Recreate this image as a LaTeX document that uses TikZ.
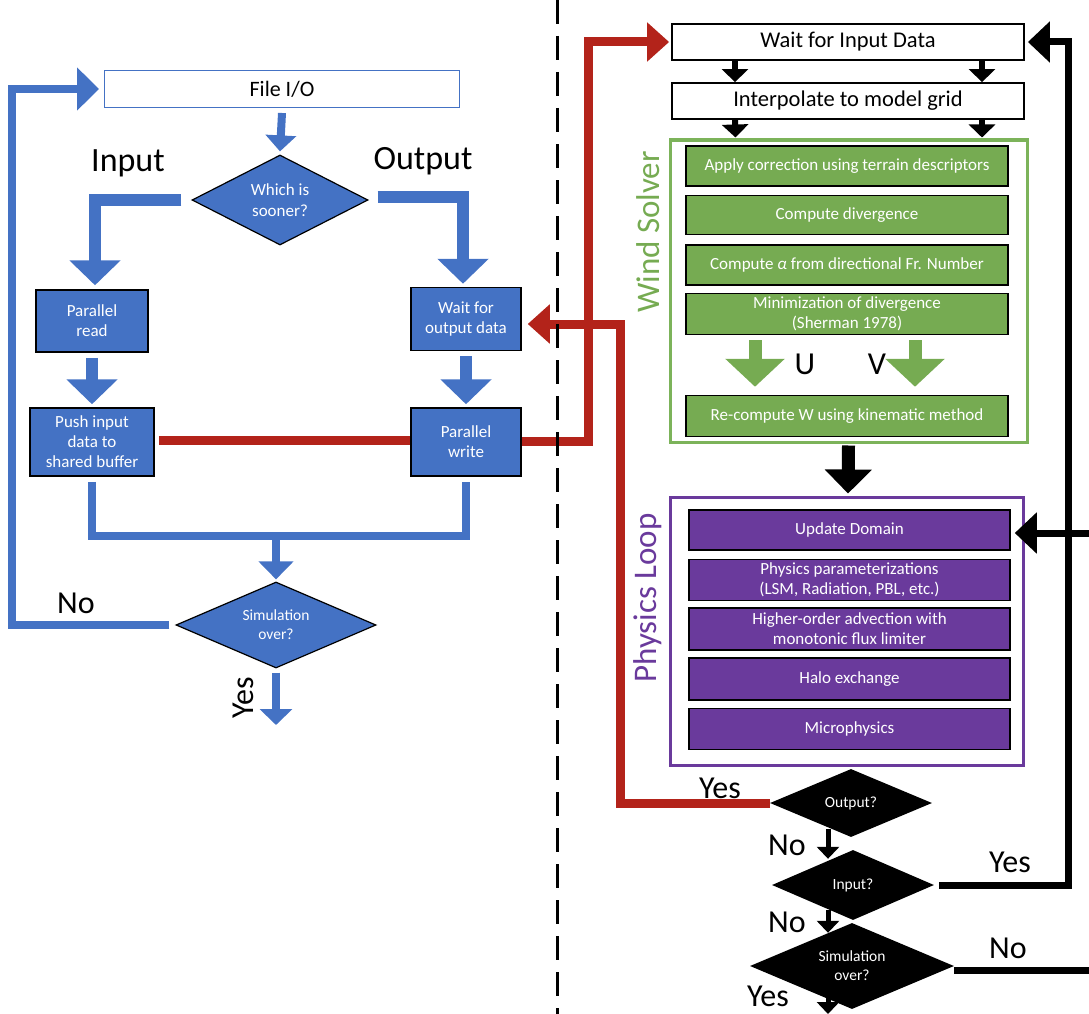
\documentclass[tikz,border=0pt]{standalone}
\usepackage{fontspec}
\setmainfont{Carlito}
\usetikzlibrary{arrows.meta,shapes.geometric}
\definecolor{myblue}{HTML}{4472C4}
\definecolor{mygreen}{HTML}{76AB52}
\definecolor{greenframe}{HTML}{7CB35A}
\definecolor{mypurple}{HTML}{6A3A9C}
\definecolor{myred}{HTML}{B3231A}
\begin{document}
\begin{tikzpicture}[x=1pt,y=-1pt,
  bluebox/.style={draw=black,line width=1.5pt,fill=myblue,text=white,align=center,inner sep=2pt,font=\fontsize{17}{20}\selectfont},
  greenbox/.style={draw=black,line width=1.5pt,fill=mygreen,text=white,align=center,inner sep=1pt,minimum width=322pt,font=\fontsize{17}{20}\selectfont},
  purplebox/.style={draw=black,line width=1.5pt,fill=mypurple,text=white,align=center,inner sep=1pt,minimum width=321pt,font=\fontsize{17}{20}\selectfont},
  whitebox/.style={draw=black,line width=1.8pt,fill=white,minimum width=352pt,minimum height=36pt,font=\fontsize{22.5}{26}\selectfont},
  bdiamond/.style={diamond,aspect=2,inner sep=0pt,draw=black,line width=1.2pt,fill=myblue,text=white,align=center,font=\fontsize{17}{21}\selectfont},
  kdiamond/.style={diamond,aspect=2,inner sep=0pt,fill=black,text=white,align=center,font=\fontsize{15.5}{19}\selectfont},
  biglbl/.style={font=\fontsize{34}{40}\selectfont},
  yn/.style={font=\fontsize{32}{38}\selectfont},
  sidelbl/.style={rotate=90,font=\fontsize{33}{40}\selectfont},
  blueline/.style={draw=myblue,line width=8pt},
  bigblue/.style={draw=myblue,line width=12pt,-{Triangle[width=50pt,length=25pt]}},
  redline/.style={draw=myred,line width=9pt},
  redarrow/.style={redline,-{Triangle[width=38pt,length=22pt]}},
  blackline/.style={draw=black,line width=7pt},
  blackarrow/.style={blackline,-{Triangle[width=40pt,length=22pt]}},
  smallk/.style={draw=black,line width=6pt,-{Triangle[width=26pt,length=13pt]}},
  smallk2/.style={draw=black,line width=5pt,-{Triangle[width=22pt,length=12pt]}},
  greenarrow/.style={draw=mygreen,line width=13pt,-{Triangle[width=58pt,length=28pt]}},
  divider/.style={draw=black,line width=3pt,dash pattern=on 24pt off 12pt}
]
\useasboundingbox (0,0) rectangle (1089,1014);

% ---------------- left: File I/O ----------------
\node[draw=myblue,line width=1pt,fill=white,minimum width=355pt,minimum height=37pt,font=\fontsize{22}{26}\selectfont] (fileio) at (282,89) {File I/O};
\node[bdiamond,minimum width=176pt,minimum height=90pt] (which) at (280,200) {Which is\\sooner?};
\node[bluebox,minimum width=112pt,minimum height=62pt] (pread) at (92,321) {Parallel\\read};
\node[bluebox,minimum width=124pt,minimum height=68pt] (pushin) at (92,442) {Push input\\data to\\shared buffer};
\node[bluebox,minimum width=110pt,minimum height=63pt] (waitout) at (466,319) {Wait for\\output data};
\node[bluebox,minimum width=110pt,minimum height=68pt] (pwrite) at (466,442) {Parallel\\write};
\node[bdiamond,minimum width=200pt,minimum height=86pt,font=\fontsize{15.5}{19}\selectfont] (lsim) at (276,625) {Simulation\\over?};

\node[biglbl] (lin) at (128,163) {Input};
\node[biglbl] (lout) at (423,161) {Output};
\node[yn] (lno) at (76,603) {No};
\node[yn,rotate=90] (lyes) at (243,698) {Yes};

\coordinate (merge) at (276,536);
\coordinate (lx) at (12,0);
\coordinate (lend) at (276,725);

\draw[draw=myblue,line width=8pt,-{Triangle[width=30pt,length=16pt]}] ([yshift=-5pt]fileio.south) -- ([yshift=3pt]which.north);
\draw[bigblue] ([xshift=-10pt]which.west) -| ([xshift=3pt,yshift=4pt]pread.north);
\draw[bigblue] ([xshift=9pt,yshift=3pt]which.east) -| ([xshift=-3pt,yshift=3pt]waitout.north);
\draw[bigblue] ([yshift=-5pt]pread.south) -- ([yshift=3pt]pushin.north);
\draw[bigblue] ([yshift=-5pt]waitout.south) -- ([yshift=3pt]pwrite.north);
\draw[blueline] ([yshift=-5pt]pushin.south) -- (pushin.south |- merge) -- (pwrite.south |- merge) -- ([yshift=-5pt]pwrite.south);
\draw[blueline,-{Triangle[width=34pt,length=18pt]}] (merge) -- ([yshift=2pt]lsim.north);
\draw[blueline,-{Triangle[width=42pt,length=22pt]}] ([xshift=-6pt]lsim.west) -- (lsim.west -| lx) |- ([xshift=-5pt]fileio.west);
\draw[blueline,-{Triangle[width=32pt,length=16pt]}] ([yshift=-4pt]lsim.south) -- (lend);

% ---------------- right ----------------
\node[whitebox] (waitin) at (848,42) {Wait for Input Data};
\node[whitebox] (interp) at (848,101) {Interpolate to model grid};

\node[draw=greenframe,line width=3pt,minimum width=357pt,minimum height=302pt,inner sep=0pt] (wind) at (848.5,291) {};
\node[greenbox,minimum height=40pt] (apply) at (847,166) {Apply correction using terrain descriptors};
\node[greenbox,minimum height=39pt] (cdiv) at (847,215) {Compute divergence};
\node[greenbox,minimum height=40pt] (calpha) at (847,265) {Compute \textit{α} from directional Fr. Number};
\node[greenbox,minimum height=41pt] (minim) at (847,314) {Minimization of divergence\\(Sherman 1978)};
\node[greenbox,minimum height=41pt] (recomp) at (847,416) {Re-compute W using kinematic method};
\node[sidelbl,text=mygreen] (windlbl) at (648,232) {Wind Solver};
\node[yn] (ulbl) at (805,364) {U};
\node[yn] (vlbl) at (877,364) {V};

\node[draw=mypurple,line width=3pt,minimum width=353pt,minimum height=268pt,inner sep=0pt] (phys) at (846.5,631) {};
\node[purplebox,minimum height=40pt] (upd) at (849.5,530) {Update Domain};
\node[purplebox,minimum height=41pt] (param) at (849.5,580) {Physics parameterizations\\(LSM, Radiation, PBL, etc.)};
\node[purplebox,minimum height=42pt] (higher) at (849.5,629) {Higher-order advection with\\monotonic flux limiter};
\node[purplebox,minimum height=42pt] (halo) at (849.5,679) {Halo exchange};
\node[purplebox,minimum height=41pt] (micro) at (849.5,729) {Microphysics};
\node[sidelbl,text=mypurple] (physlbl) at (648,598) {Physics Loop};

\node[kdiamond,minimum width=162pt,minimum height=68pt] (outq) at (851,803) {Output?};
\node[kdiamond,minimum width=162pt,minimum height=70pt] (inq) at (853,885) {Input?};
\node[kdiamond,minimum width=204pt,minimum height=86pt] (simq) at (852,966) {Simulation\\over?};

\node[yn] (ryes1) at (720,788) {Yes};
\node[yn] (rno1) at (787,845) {No};
\node[yn] (ryes2) at (1010,862) {Yes};
\node[yn] (rno2) at (787,922) {No};
\node[yn] (rno3) at (1008,948) {No};
\node[yn] (ryes3) at (768,996) {Yes};

\coordinate (kx) at (1068,0);
\coordinate (redge1) at (1089,533);
\coordinate (redge2) at (1089,970);
\coordinate (rA) at (588,0);
\coordinate (rB) at (620,0);
\coordinate (rend) at (828,1014);

\draw[smallk] ([xshift=-113pt]waitin.south) -- ([xshift=-113pt]interp.north);
\draw[smallk] ([xshift=134pt]waitin.south) -- ([xshift=134pt]interp.north);
\draw[smallk] ([xshift=-113pt]interp.south) -- ([xshift=-113pt,yshift=1pt]wind.north);
\draw[smallk] ([xshift=134pt]interp.south) -- ([xshift=133.5pt,yshift=1pt]wind.north);
\draw[greenarrow] ([xshift=-92pt,yshift=-5pt]minim.south) -- ([xshift=-92pt,yshift=8pt]recomp.north);
\draw[greenarrow] ([xshift=68pt,yshift=-5pt]minim.south) -- ([xshift=68pt,yshift=8pt]recomp.north);
\draw[draw=black,line width=13pt,-{Triangle[width=46pt,length=24pt]}] ([yshift=-2pt]wind.south) -- ([xshift=1.5pt,yshift=2pt]phys.north);

\draw[smallk2] ([xshift=-23pt,yshift=8pt]outq.south) -- ([xshift=-25pt,yshift=-9pt]inq.north);
\draw[smallk2] ([xshift=-25pt,yshift=10pt]inq.south) -- ([xshift=-24pt,yshift=-10pt]simq.north);
\draw[smallk2] ([xshift=-24pt,yshift=14pt]simq.south) -- (rend);

\draw[blackarrow] ([xshift=5pt]inq.east) -- (inq.east -| kx) |- ([xshift=3pt]waitin.east);
\draw[blackarrow] (redge1) -- ([xshift=4pt,yshift=-3pt]upd.east);
\draw[blackline] ([yshift=-4pt]simq.east) -- (redge2);

% ---------------- red data links ----------------
\draw[redline] ([xshift=4pt,yshift=2pt]pushin.east) -- ([yshift=2pt]pwrite.west);
\draw[redarrow] ([yshift=1pt]pwrite.east) -- ([yshift=1pt]pwrite.east -| rA) |- ([xshift=-2pt]waitin.west);
\draw[redarrow] (outq.west) -- (outq.west -| rB) |- ([xshift=6pt,yshift=-5pt]waitout.east);

% ---------------- divider ----------------
\coordinate (dtop) at (557,0);
\coordinate (dbot) at (557,1014);
\draw[divider] (dtop) -- (dbot);
\end{tikzpicture}
\end{document}
